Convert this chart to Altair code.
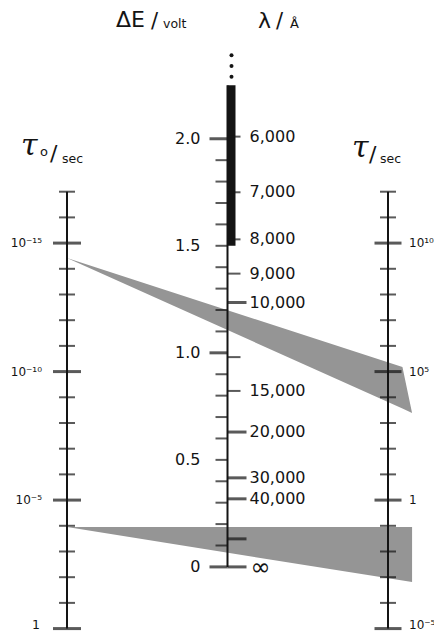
import altair as alt
import pandas as pd

# ---------------- values ----------------
# left scale: tau0 = 10^e seconds
tau0_minor = [-17, -16, -14, -13, -12, -11, -9, -8, -7, -6, -4, -3, -2, -1]
tau0_major = [-15, -10, -5, 0]
tau0_labels = ["10⁻¹⁵", "10⁻¹⁰", "10⁻⁵", "1"]

# right scale: tau = 10^e seconds
tau_minor = [12, 11, 9, 8, 7, 6, 4, 3, 2, 1, -1, -2, -3, -4]
tau_major = [10, 5, 0, -5]
tau_labels = ["10¹⁰", "10⁵", "1", "10⁻⁵"]

# middle scale: Delta E / volt (left side)
dE_minor = [0.1, 0.2, 0.3, 0.4, 0.5, 0.6, 0.7, 0.8, 0.9,
            1.1, 1.2, 1.3, 1.4, 1.5, 1.6, 1.7, 1.8, 1.9]
dE_major = [0.0, 1.0, 2.0]
dE_label_vals = [0.0, 0.5, 1.0, 1.5, 2.0]
dE_labels = ["0", "0.5", "1.0", "1.5", "2.0"]

# middle scale: lambda / Angstrom (right side), positions in Delta E
lam_short_dE = [2.01, 1.75, 1.53, 1.37, 0.98, 0.822]
lam_long_dE = [1.235, 0.63, 0.416, 0.318, 0.131, 0.0]
lam_label_dE = [2.01, 1.75, 1.53, 1.37, 1.235, 0.822, 0.63, 0.416, 0.318]
lam_labels = ["6,000", "7,000", "8,000", "9,000", "10,000", "15,000",
              "20,000", "30,000", "40,000"]
lam_inf_dE = [0.0]
lam_inf_label = ["∞"]

# thick (visible) part of the middle scale and the dots above it
visible_dE = [1.5, 2.25]
dots_dE = [2.29, 2.34, 2.39]

# hatched bands (x: 0 = tau0 scale, 1 = middle scale, 2 = tau scale)
upper_x = [0.0, 2.09, 2.15]
upper_apex_tau0 = -14.42
upper_hi_tau = [5.18, 3.39]
upper_lo_tau = [3.56, 3.39]

lower_x = [0.0, 2.15]
lower_apex_tau0 = -3.95
lower_hi_tau = [-1.05]
lower_lo_tau = [-3.19]


# ---------------- nomogram scale definitions ----------------
def u_left(e):
    return -5.0 - e


def u_mid(v):
    return -2.60 + 8.33 * v


def u_right(e):
    return float(e)


F = "DejaVu Sans"
INK = "#141414"
XS = alt.Scale(domain=[-0.3676, 2.2866], nice=False, zero=False)
YS = alt.Scale(domain=[-5.094, 19.148], nice=False, zero=False)


def ex(f="x"):
    return alt.X(f, type="quantitative", scale=XS, axis=None)


def ey(f="y"):
    return alt.Y(f, type="quantitative", scale=YS, axis=None)


layers = []

# hatched bands (drawn as a mid grey fill)
up_df = pd.DataFrame({
    "x": upper_x,
    "hi": [u_left(upper_apex_tau0)] + [u_right(v) for v in upper_hi_tau],
    "lo": [u_left(upper_apex_tau0)] + [u_right(v) for v in upper_lo_tau],
})
lo_df = pd.DataFrame({
    "x": lower_x,
    "hi": [u_left(lower_apex_tau0)] + [u_right(v) for v in lower_hi_tau],
    "lo": [u_left(lower_apex_tau0)] + [u_right(v) for v in lower_lo_tau],
})
for d in (up_df, lo_df):
    layers.append(
        alt.Chart(d).mark_area(color="#959595", orient="vertical", interpolate="linear")
        .encode(x=ex(), y=ey("hi"), y2="lo")
    )

# axis lines
axes_df = pd.DataFrame({
    "x": [0, 1, 2],
    "y": [u_left(tau0_minor[0]), u_mid(0.0), u_right(tau_minor[0])],
    "y2": [u_left(0), u_mid(visible_dE[1]), u_right(tau_major[-1])],
})
layers.append(alt.Chart(axes_df).mark_rule(color=INK, strokeWidth=2)
              .encode(x=ex(), y=ey(), y2="y2"))

# thick visible band of the middle scale
vis_df = pd.DataFrame({"x": [1], "y": [u_mid(visible_dE[0])], "y2": [u_mid(visible_dE[1])]})
layers.append(alt.Chart(vis_df).mark_rule(color=INK, strokeWidth=8, xOffset=4)
              .encode(x=ex(), y=ey(), y2="y2"))

dots_df = pd.DataFrame({"x": [1] * len(dots_dE), "y": [u_mid(v) for v in dots_dE]})
layers.append(alt.Chart(dots_df).mark_circle(color=INK, opacity=1, size=16, xOffset=4)
              .encode(x=ex(), y=ey()))


def ticks(xpos, ys, size, thick, xoff=0):
    d = pd.DataFrame({"x": [xpos] * len(ys), "y": ys})
    return alt.Chart(d).mark_tick(orient="horizontal", color=INK, size=size,
                                  thickness=thick, xOffset=xoff).encode(x=ex(), y=ey())


layers.append(ticks(0, [u_left(e) for e in tau0_minor], 16, 2))
layers.append(ticks(0, [u_left(e) for e in tau0_major], 28, 3))
layers.append(ticks(2, [u_right(e) for e in tau_minor], 16, 2))
layers.append(ticks(2, [u_right(e) for e in tau_major], 27, 3))
layers.append(ticks(1, [u_mid(v) for v in dE_minor], 12, 2, -6))
layers.append(ticks(1, [u_mid(v) for v in dE_major], 18, 3, -9))
layers.append(ticks(1, [u_mid(v) for v in lam_short_dE], 13, 2, 6.5))
layers.append(ticks(1, [u_mid(v) for v in lam_long_dE], 19, 3, 9.5))


def labels(xpos, ys, texts, align, dx, size, dy=0):
    d = pd.DataFrame({"x": [xpos] * len(ys), "y": ys, "t": texts})
    return alt.Chart(d).mark_text(align=align, baseline="middle", dx=dx, dy=dy, font=F,
                                  fontSize=size, color=INK).encode(x=ex(), y=ey(), text="t:N")


# tau scale labels; the lowest ones are nudged up to stay inside the page
layers.append(labels(0, [u_left(e) for e in tau0_major[:-1]], tau0_labels[:-1], "right", -25, 12))
layers.append(labels(0, [u_left(e) for e in tau0_major[-1:]], tau0_labels[-1:], "right", -27, 12.5, dy=-4))
layers.append(labels(2, [u_right(e) for e in tau_major[:-1]], tau_labels[:-1], "left", 21, 12))
layers.append(labels(2, [u_right(e) for e in tau_major[-1:]], tau_labels[-1:], "left", 21, 12, dy=-4))
layers.append(labels(1, [u_mid(v) for v in dE_label_vals], dE_labels, "right", -27, 16))
layers.append(labels(1, [u_mid(v) for v in lam_label_dE], lam_labels, "left", 22, 16))
layers.append(labels(1, [u_mid(v) for v in lam_inf_dE], lam_inf_label, "left", 23, 24, dy=1))


def title_text(t, px, py, size, italic=False, font=F):
    kw = dict(align="left", baseline="alphabetic", font=font, fontSize=size,
              color=INK, x=px, y=py)
    if italic:
        kw["fontStyle"] = "italic"
    return alt.Chart(pd.DataFrame({"t": [t]})).mark_text(**kw).encode(text="t:N")


# titles (plot coordinates = page - 8)
layers.append(title_text("ΔE", 108, 19, 22))
layers.append(title_text("/", 143, 20, 21))
layers.append(title_text("volt", 155, 20, 12.5))
layers.append(title_text("λ", 250, 20, 22))
layers.append(title_text("/", 268, 20, 21))
layers.append(title_text("Å", 282, 20, 13))

layers.append(title_text("τ", 13, 147, 30, italic=True, font="DejaVu Serif"))
layers.append(title_text("o", 32, 148, 13))
layers.append(title_text("/", 42, 153, 22))
layers.append(title_text("sec", 54, 155, 12.5))

layers.append(title_text("τ", 344, 149, 30, italic=True, font="DejaVu Serif"))
layers.append(title_text("/", 361, 154, 22))
layers.append(title_text("sec", 372, 155, 12.5))

chart = alt.layer(*layers).properties(
    width=426, height=623,
    autosize=alt.AutoSizeParams(type="none"),
    padding=0,
    background="white",
).configure_view(stroke=None)

chart.save("out.html", embed_options={"renderer": "svg", "actions": False})
